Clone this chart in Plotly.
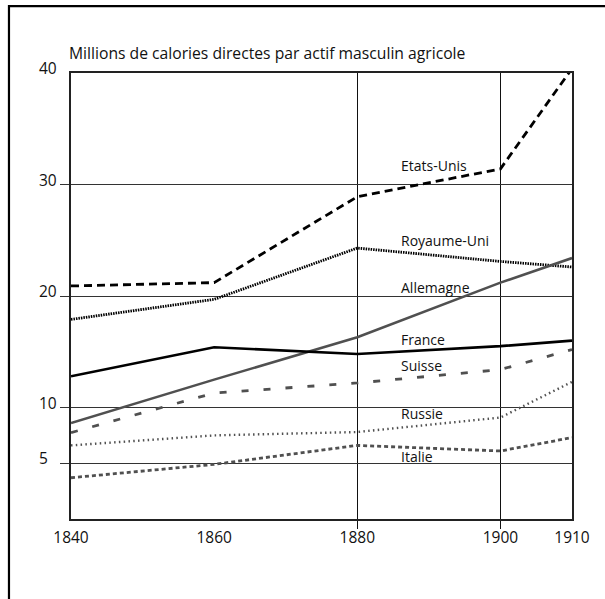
import plotly.graph_objects as go

years = [1840, 1860, 1880, 1900, 1910]
etats_unis = [20.9, 21.2, 28.9, 31.4, 40.4]
royaume_uni = [17.9, 19.7, 24.3, 23.1, 22.6]
allemagne = [8.6, 12.5, 16.3, 21.2, 23.4]
france = [12.8, 15.4, 14.8, 15.5, 16.0]
suisse = [7.75, 11.3, 12.2, 13.4, 15.2]
russie = [6.6, 7.5, 7.8, 9.1, 12.3]
italie = [3.7, 4.9, 6.6, 6.1, 7.3]

series_names = ["Etats-Unis", "Royaume-Uni", "Allemagne", "France", "Suisse", "Russie", "Italie"]
series_values = [etats_unis, royaume_uni, allemagne, france, suisse, russie, italie]
label_y = [31.7, 25.0, 20.8, 16.1, 13.8, 9.5, 5.6]
label_x = 1885.8

y_ticks = [5, 10, 20, 30]
y_labels = [5, 10, 20, 30, 40]
x_grid = [1880, 1900]
title_text = "Millions de calories directes par actif masculin agricole"

styles = [
    dict(color="#000000", width=2.8, dash="8px,5px"),
    dict(color="#000000", width=2.8, dash="1.5px,1px"),
    dict(color="#505050", width=2.6, dash="solid"),
    dict(color="#000000", width=2.6, dash="solid"),
    dict(color="#505050", width=2.8, dash="7px,15px"),
    dict(color="#505050", width=2.4, dash="1.5px,3.3px"),
    dict(color="#505050", width=2.8, dash="4px,3px"),
]

FONT = "Open Sans"
fig = go.Figure()
for name, vals, st in zip(series_names, series_values, styles):
    fig.add_trace(go.Scatter(x=years, y=vals, mode="lines", name=name,
                             line=dict(color=st["color"], width=st["width"], dash=st["dash"]),
                             showlegend=False))

annotations = []
for name, ly in zip(series_names, label_y):
    annotations.append(dict(x=label_x, y=ly, xref="x", yref="y", text=name, showarrow=False,
                            xanchor="left", yanchor="middle",
                            font=dict(family=FONT, size=14, color="#111")))
for v in y_labels:
    annotations.append(dict(x=-0.0679, y=v, xref="paper", yref="y", text=str(v), showarrow=False,
                            xanchor="left", yanchor="middle", yshift=5,
                            font=dict(family=FONT, size=15.5, color="#111")))
annotations.append(dict(x=-0.0086, y=1.0448, xref="paper", yref="paper", text=title_text,
                        showarrow=False, xanchor="left", yanchor="middle",
                        font=dict(family=FONT, size=15.7, color="#111")))

fig.update_layout(
    width=605, height=599,
    margin=dict(l=71, r=33, t=73, b=80),
    paper_bgcolor="white", plot_bgcolor="white",
    annotations=annotations,
    shapes=[dict(type="rect", xref="paper", yref="paper", x0=-0.1238, x1=1.3, y0=-0.5, y1=1.150,
                 line=dict(color="#000", width=2.2), fillcolor="rgba(0,0,0,0)", layer="above")],
    font=dict(family=FONT, size=15.5, color="#111"),
)
fig.update_xaxes(range=[1840, 1910], tickmode="array", tickvals=years, ticktext=[str(y) for y in years],
                 ticks="", showgrid=False, zeroline=False,
                 showline=True, linecolor="#222", linewidth=1.8, mirror=True,
                 tickfont=dict(family=FONT, size=15.5, color="#111"), ticklabelstandoff=3,
                 minor=dict(tickmode="array", tickvals=x_grid, ticks="outside", ticklen=8,
                            tickcolor="#111", tickwidth=1, showgrid=True, gridcolor="#111", gridwidth=1))
fig.update_yaxes(range=[0, 40], tickmode="array", tickvals=y_ticks, showticklabels=False,
                 ticks="outside", ticklen=9, tickcolor="#333", tickwidth=1,
                 showgrid=True, gridcolor="#333", gridwidth=1, zeroline=False,
                 showline=True, linecolor="#222", linewidth=1.8, mirror=True)

fig.write_html("out.html", config={"displayModeBar": False},
               post_script="document.body.style.margin='0px';")
